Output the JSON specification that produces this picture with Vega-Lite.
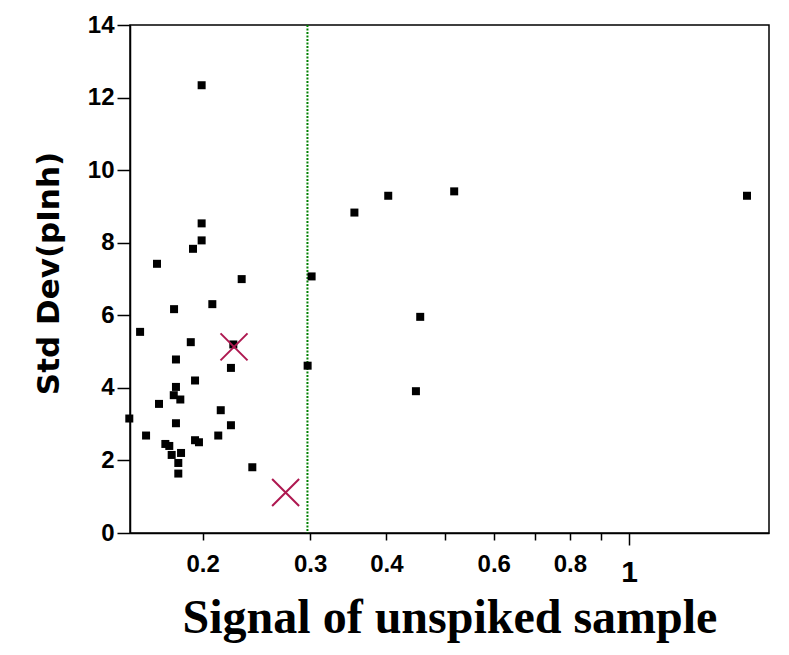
{
  "$schema": "https://vega.github.io/schema/vega-lite/v6.json",
  "width": 639,
  "height": 508,
  "autosize": {"type": "none"},
  "padding": {"left": 130, "top": 25, "right": 20, "bottom": 122},
  "background": "white",
  "config": {"view": {"stroke": "black", "strokeWidth": 1.5}, "font": "Liberation Sans"},
  "datasets": {
    "points": [
      {"signal": 0.1516, "sd": 3.155}, {"signal": 0.1579, "sd": 5.543}, {"signal": 0.1795, "sd": 6.169},
      {"signal": 0.2074, "sd": 6.307}, {"signal": 0.1912, "sd": 5.259}, {"signal": 0.2245, "sd": 5.196},
      {"signal": 0.1808, "sd": 4.782}, {"signal": 0.2225, "sd": 4.55}, {"signal": 0.1943, "sd": 4.203},
      {"signal": 0.1808, "sd": 4.026}, {"signal": 0.1793, "sd": 3.798}, {"signal": 0.1838, "sd": 3.679},
      {"signal": 0.1696, "sd": 3.558}, {"signal": 0.2141, "sd": 3.384}, {"signal": 0.1808, "sd": 3.025},
      {"signal": 0.2225, "sd": 2.97}, {"signal": 0.1615, "sd": 2.686}, {"signal": 0.2121, "sd": 2.686},
      {"signal": 0.1943, "sd": 2.557}, {"signal": 0.1972, "sd": 2.501}, {"signal": 0.1737, "sd": 2.454},
      {"signal": 0.1763, "sd": 2.399}, {"signal": 0.1779, "sd": 2.151}, {"signal": 0.1843, "sd": 2.206},
      {"signal": 0.1824, "sd": 1.93}, {"signal": 0.1824, "sd": 1.638}, {"signal": 0.2412, "sd": 1.812},
      {"signal": 0.2972, "sd": 4.611}, {"signal": 0.2317, "sd": 6.997}, {"signal": 0.3017, "sd": 7.071},
      {"signal": 0.1992, "sd": 12.34}, {"signal": 0.1992, "sd": 8.533}, {"signal": 0.1992, "sd": 8.064},
      {"signal": 0.1928, "sd": 7.832}, {"signal": 0.1683, "sd": 7.419}, {"signal": 0.3546, "sd": 8.831},
      {"signal": 0.4029, "sd": 9.294}, {"signal": 0.5168, "sd": 9.415}, {"signal": 1.561, "sd": 9.294},
      {"signal": 0.4546, "sd": 5.957}, {"signal": 0.4473, "sd": 3.908}
    ],
    "spiked": [
      {"signal": 0.2251, "sd": 5.13}, {"signal": 0.2735, "sd": 1.114}
    ],
    "cutoff": [{"signal": 0.297}]
  },
  "layer": [
    {
      "data": {"name": "cutoff"},
      "mark": {"type": "rule", "color": "#008000", "strokeWidth": 2, "strokeDash": [2, 1.5]},
      "encoding": {
        "x": {"field": "signal", "type": "quantitative", "scale": {"type": "log", "domain": [0.152, 1.696], "nice": false}}
      }
    },
    {
      "data": {"name": "points"},
      "mark": {"type": "point", "shape": "square", "filled": true, "color": "black", "size": 64, "opacity": 1},
      "encoding": {
        "x": {
          "field": "signal", "type": "quantitative",
          "scale": {"type": "log", "domain": [0.152, 1.696], "nice": false},
          "axis": {
            "values": [0.2, 0.3, 0.4, 0.5, 0.6, 0.7, 0.8, 0.9, 1],
            "format": "~g",
            "labelExpr": "(datum.value > 0.45 && datum.value < 0.55) || (datum.value > 0.65 && datum.value < 0.75) || (datum.value > 0.85 && datum.value < 0.95) ? '' : datum.label",
            "labelFontSize": {"condition": {"test": "datum.value > 0.95", "value": 30}, "value": 24},
            "tickSize": {"condition": {"test": "datum.value > 0.95", "value": 12}, "value": 7},
            "labelPadding": 12,
            "labelFont": "Liberation Sans",
            "labelFontWeight": "bold",
            "labelColor": "black",
            "labelOverlap": false,
            "labelFlush": false,
            "domainColor": "black",
            "domainWidth": 1.5,
            "tickColor": "black",
            "tickWidth": 1.5,
            "grid": false,
            "title": "Signal of unspiked sample",
            "titleFont": "Liberation Serif",
            "titleFontSize": 48,
            "titleFontWeight": "bold",
            "titleColor": "black",
            "titleBaseline": "alphabetic",
            "titleAlign": "center",
            "titleX": 319.5,
            "titleY": 99
          }
        },
        "y": {
          "field": "sd", "type": "quantitative",
          "scale": {"domain": [0, 14], "nice": false},
          "axis": {
            "values": [0, 2, 4, 6, 8, 10, 12, 14],
            "tickSize": 13,
            "labelPadding": 3,
            "labelFont": "Liberation Sans",
            "labelFontSize": 24,
            "labelFontWeight": "bold",
            "labelColor": "black",
            "labelOverlap": false,
            "labelFlush": false,
            "domainColor": "black",
            "domainWidth": 1.5,
            "tickColor": "black",
            "tickWidth": 1.5,
            "grid": false,
            "title": "Std Dev(pInh)",
            "titleFont": "DejaVu Sans",
            "titleFontSize": 31,
            "titleFontWeight": "bold",
            "titleColor": "black",
            "titleAngle": -90,
            "titleAlign": "center",
            "titleBaseline": "middle",
            "titleX": -81,
            "titleY": 248
          }
        }
      }
    },
    {
      "data": {"name": "spiked"},
      "mark": {"type": "point", "shape": "M-1,-1L1,1M-1,1L1,-1", "filled": false, "color": "#AE1850", "strokeWidth": 2, "size": 729, "opacity": 1},
      "encoding": {
        "x": {"field": "signal", "type": "quantitative", "scale": {"type": "log", "domain": [0.152, 1.696], "nice": false}},
        "y": {"field": "sd", "type": "quantitative", "scale": {"domain": [0, 14], "nice": false}}
      }
    }
  ]
}
